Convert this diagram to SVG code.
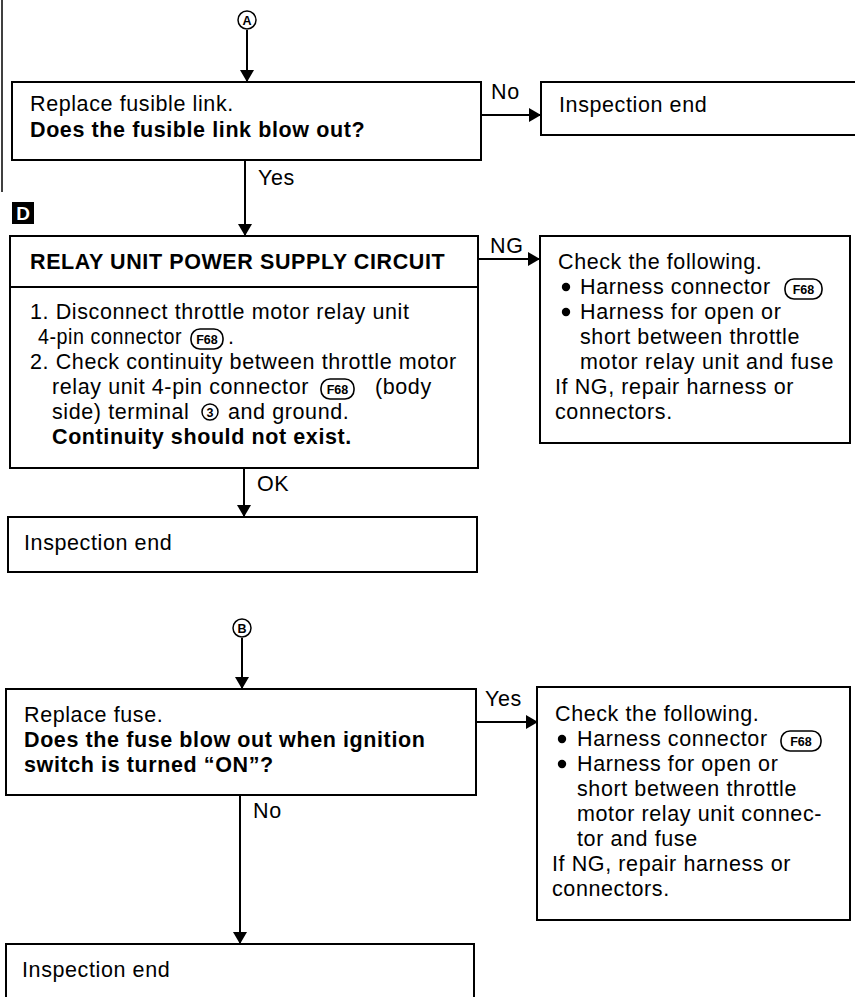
<svg xmlns="http://www.w3.org/2000/svg" width="855" height="997" viewBox="0 0 855 997">
<style>
.bg{fill:#fff}
.box{fill:#fff;stroke:#000;stroke-width:2}
.ln{stroke:#000;stroke-width:2;fill:none}
.t{font-family:"Liberation Sans",Arial,Helvetica,sans-serif;font-size:21.5px;letter-spacing:0.6px;fill:#000}
.b{font-weight:bold}
.bd{fill:#fff;stroke:#000;stroke-width:1.6}
.bt{font-family:"Liberation Sans",Arial,sans-serif;font-size:12.5px;font-weight:bold;fill:#000;text-anchor:middle}
.ct{font-family:"Liberation Sans",Arial,sans-serif;font-size:12.5px;font-weight:bold;fill:#000;text-anchor:middle}
</style>
<defs>
<marker id="ah" markerWidth="12" markerHeight="14" refX="12" refY="7" orient="auto" markerUnits="userSpaceOnUse">
<path d="M0,0 L12,7 L0,14 Z" fill="#000"/>
</marker>
</defs>
<rect class="bg" x="0" y="0" width="855" height="997"/>
<line x1="2" y1="0" x2="2" y2="192" stroke="#000" stroke-width="1.5"/>

<g id="connectors">
<line class="ln" x1="247" y1="30" x2="247" y2="82" marker-end="url(#ah)"/>
<line class="ln" x1="481" y1="115" x2="541" y2="115" marker-end="url(#ah)"/>
<text class="t" x="491" y="99">No</text>
<line class="ln" x1="245" y1="160" x2="245" y2="236" marker-end="url(#ah)"/>
<text class="t" x="258" y="185">Yes</text>
<line class="ln" x1="478" y1="259" x2="540" y2="259" marker-end="url(#ah)"/>
<text class="t" x="490" y="253">NG</text>
<line class="ln" x1="244" y1="468" x2="244" y2="517" marker-end="url(#ah)"/>
<text class="t" x="257" y="491">OK</text>
<line class="ln" x1="242" y1="638" x2="242" y2="689" marker-end="url(#ah)"/>
<line class="ln" x1="476" y1="722" x2="538" y2="722" marker-end="url(#ah)"/>
<text class="t" x="485" y="706">Yes</text>
<line class="ln" x1="240" y1="795" x2="240" y2="944" marker-end="url(#ah)"/>
<text class="t" x="253" y="818">No</text>
</g>

<g id="startA">
<circle cx="247" cy="20" r="9" fill="#fff" stroke="#000" stroke-width="1.5"/>
<text class="ct" x="247" y="24.5">A</text>
</g>

<g id="n1">
<rect class="box" x="12" y="82" width="469" height="78"/>
<text class="t" x="30" y="111">Replace fusible link.</text>
<text class="t b" x="30" y="137">Does the fusible link blow out?</text>
</g>

<g id="n2">
<rect class="box" x="541" y="82" width="320" height="53"/>
<text class="t" x="559" y="112">Inspection end</text>
</g>

<g id="markerD">
<rect x="12" y="202" width="22" height="22" fill="#000"/>
<text x="23" y="220" font-family="Liberation Sans,Arial,sans-serif" font-size="19" font-weight="bold" fill="#fff" text-anchor="middle">D</text>
</g>

<g id="n3">
<rect class="box" x="10" y="236" width="468" height="232"/>
<line class="ln" x1="10" y1="287" x2="478" y2="287"/>
<text class="t b" x="30" y="269">RELAY UNIT POWER SUPPLY CIRCUIT</text>
<text class="t" x="30" y="319">1. Disconnect throttle motor relay unit</text>
<text class="t" x="38" y="344" textLength="144" lengthAdjust="spacingAndGlyphs">4-pin connector</text>
<rect class="bd" x="191" y="329" width="32" height="20" rx="9"/>
<text class="bt" x="207" y="343.5">F68</text>
<text class="t" x="228" y="344">.</text>
<text class="t" x="30" y="369">2. Check continuity between throttle motor</text>
<text class="t" x="52" y="394">relay unit 4-pin connector</text>
<rect class="bd" x="321" y="379" width="33" height="20" rx="9"/>
<text class="bt" x="337.5" y="393.5">F68</text>
<text class="t" x="375" y="394">(body</text>
<text class="t" x="52" y="419">side) terminal</text>
<circle cx="210" cy="412" r="8" fill="#fff" stroke="#000" stroke-width="1.5"/>
<text class="ct" x="210" y="416.5">3</text>
<text class="t" x="228" y="419">and ground.</text>
<text class="t b" x="52" y="444">Continuity should not exist.</text>
</g>

<g id="n4">
<rect class="box" x="540" y="236" width="310" height="207"/>
<text class="t" x="558" y="269">Check the following.</text>
<circle cx="566" cy="287" r="4.2" fill="#000"/>
<text class="t" x="580" y="294">Harness connector</text>
<rect class="bd" x="785" y="279" width="37" height="20" rx="9"/>
<text class="bt" x="803.5" y="293.5">F68</text>
<circle cx="566" cy="312" r="4.2" fill="#000"/>
<text class="t" x="580" y="319">Harness for open or</text>
<text class="t" x="580" y="344">short between throttle</text>
<text class="t" x="580" y="369" textLength="254" lengthAdjust="spacing">motor relay unit and fuse</text>
<text class="t" x="555" y="394">If NG, repair harness or</text>
<text class="t" x="555" y="419">connectors.</text>
</g>

<g id="n5">
<rect class="box" x="8" y="517" width="469" height="55"/>
<text class="t" x="24" y="550">Inspection end</text>
</g>

<g id="startB">
<circle cx="242" cy="628" r="9" fill="#fff" stroke="#000" stroke-width="1.5"/>
<text class="ct" x="242" y="632.5">B</text>
</g>

<g id="n6">
<rect class="box" x="6" y="689" width="470" height="106"/>
<text class="t" x="24" y="722">Replace fuse.</text>
<text class="t b" x="24" y="747">Does the fuse blow out when ignition</text>
<text class="t b" x="24" y="772">switch is turned “ON”?</text>
</g>

<g id="n7">
<rect class="box" x="537" y="687" width="313" height="233"/>
<text class="t" x="555" y="721">Check the following.</text>
<circle cx="562" cy="739" r="4.2" fill="#000"/>
<text class="t" x="577" y="746">Harness connector</text>
<rect class="bd" x="781" y="731" width="40" height="20" rx="9"/>
<text class="bt" x="801" y="745.5">F68</text>
<circle cx="562" cy="764" r="4.2" fill="#000"/>
<text class="t" x="577" y="771">Harness for open or</text>
<text class="t" x="577" y="796">short between throttle</text>
<text class="t" x="577" y="821">motor relay unit connec-</text>
<text class="t" x="577" y="846">tor and fuse</text>
<text class="t" x="552" y="871">If NG, repair harness or</text>
<text class="t" x="552" y="896">connectors.</text>
</g>

<g id="n8">
<rect class="box" x="6" y="944" width="468" height="60"/>
<text class="t" x="22" y="977">Inspection end</text>
</g>
</svg>
